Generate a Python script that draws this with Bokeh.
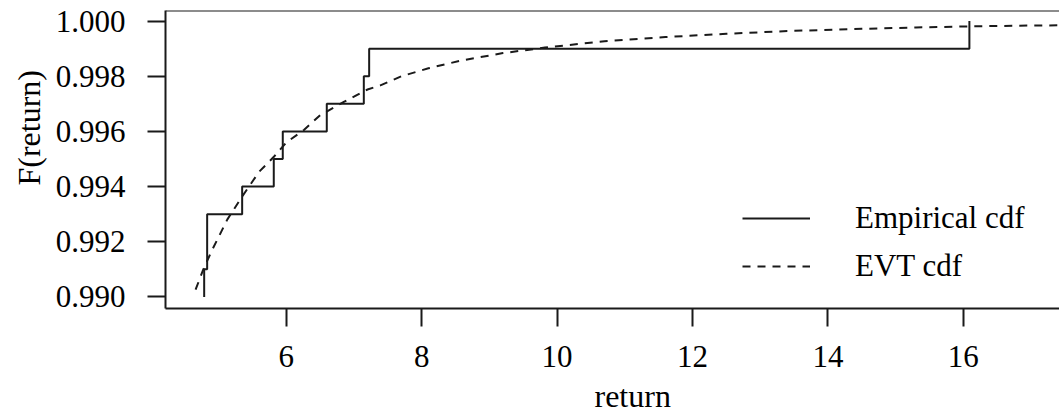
from bokeh.plotting import figure
from bokeh.models import (FixedTicker, PrintfTickFormatter, Legend, LegendItem,
                          Title, Span, Range1d)
from bokeh.embed import file_html
from bokeh.resources import INLINE

# ---- data ----
ecdf_x = [4.787, 4.787, 4.831, 5.348, 5.815, 5.948, 6.598, 7.145, 7.224, 16.09]
ecdf_y = [0.990, 0.991, 0.993, 0.994, 0.995, 0.996, 0.997, 0.998, 0.999, 1.000]

evt_x = [4.66, 4.77, 4.90, 5.13, 5.35, 5.60, 5.82, 6.00, 6.26, 6.50, 6.85, 7.20,
         7.39, 7.70, 8.10, 8.60, 9.20, 9.82, 10.70, 11.60, 12.50, 13.40, 14.50,
         15.30, 16.10, 17.00, 17.50]
evt_y = [0.99026, 0.99097, 0.99168, 0.99281, 0.99365, 0.99454, 0.99509, 0.99560,
         0.99605, 0.99659, 0.99707, 0.99752, 0.99767, 0.99800, 0.99829, 0.99858,
         0.99884, 0.99904, 0.99927, 0.99942, 0.99954, 0.99964, 0.99972, 0.99977,
         0.99981, 0.99984, 0.99985]

x_ticks = [6, 8, 10, 12, 14, 16]
y_ticks = [0.990, 0.992, 0.994, 0.996, 0.998, 1.000]

FONT = "Liberation Serif"
FS = "31px"
FS_TITLE = "32px"
INK = "#1a1a1a"
LW = 2

x0, x1 = 4.2157, 17.421
y0, y1 = 0.989579, 1.000385

p = figure(width=1059, height=419, output_backend="svg", toolbar_location=None,
           x_range=Range1d(x0, x1), y_range=Range1d(y0, y1),
           min_border_left=165, min_border_right=0, min_border_top=10,
           min_border_bottom=109)
p.outline_line_color = None
p.grid.visible = False
p.background_fill_color = "white"
p.border_fill_color = "white"

r1 = p.step(ecdf_x, ecdf_y, mode="after", line_color=INK, line_width=LW)
r2 = p.line(evt_x, evt_y, line_color=INK, line_width=LW, line_dash="8 7")

for ax in (p.xaxis[0], p.yaxis[0]):
    ax.axis_line_color = INK
    ax.axis_line_width = LW
    ax.major_tick_line_color = INK
    ax.major_tick_line_width = LW
    ax.major_tick_in = 0
    ax.major_tick_out = 18
    ax.minor_tick_line_color = None
    ax.major_label_text_font = FONT
    ax.major_label_text_font_size = FS
    ax.major_label_text_color = "black"

p.xaxis.ticker = FixedTicker(ticks=x_ticks)
p.xaxis.major_label_standoff = 19
p.yaxis.ticker = FixedTicker(ticks=y_ticks)
p.yaxis.formatter = PrintfTickFormatter(format="%.3f")
p.yaxis.major_label_standoff = 22

# top edge of the box
p.add_layout(Span(location=y1, dimension="width", line_color=INK, line_width=LW))

# axis titles
p.add_layout(Title(text="F(return)", align="left", offset=123, standoff=12,
                   text_font=FONT, text_font_size=FS_TITLE, text_font_style="normal",
                   text_color="black"), "left")
p.add_layout(Title(text="return", align="left", offset=429, standoff=12,
                   text_font=FONT, text_font_size=FS_TITLE, text_font_style="normal",
                   text_color="black"), "below")

legend = Legend(items=[LegendItem(label="Empirical cdf", renderers=[r1]),
                       LegendItem(label="EVT cdf", renderers=[r2])],
                location=(577, 24), orientation="vertical",
                glyph_width=68, glyph_height=30, label_height=30,
                label_standoff=45, spacing=12, padding=0, margin=0,
                border_line_color=None, background_fill_alpha=0,
                label_text_font=FONT, label_text_font_size=FS,
                label_text_color="black")
p.add_layout(legend)

open("out.html", "w").write(file_html(p, INLINE))
